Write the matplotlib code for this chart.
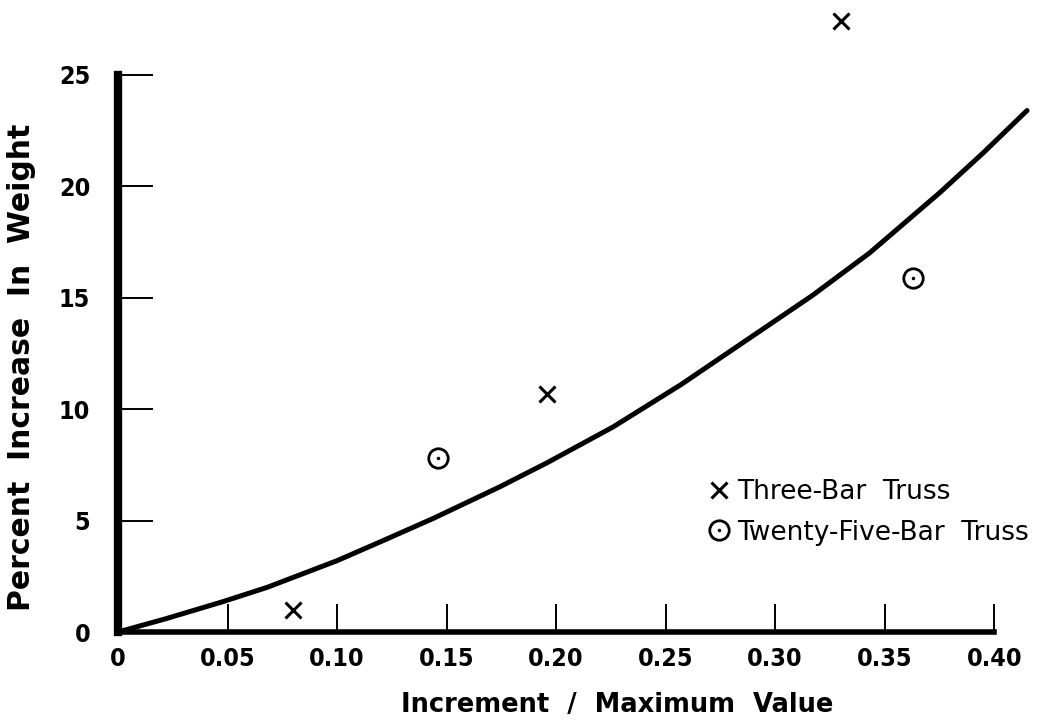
import matplotlib
matplotlib.use("Agg")
import matplotlib.pyplot as plt
from matplotlib.legend_handler import HandlerTuple

# curve
curve_x = [0, 0.022, 0.0475, 0.068, 0.100, 0.121, 0.144, 0.159, 0.174, 0.196, 0.226,
           0.257, 0.287, 0.317, 0.343, 0.375, 0.395, 0.415]
curve_y = [0, 0.6, 1.35, 2.0, 3.2, 4.1, 5.1, 5.8, 6.5, 7.6, 9.2,
           11.1, 13.1, 15.1, 17.0, 19.7, 21.5, 23.4]

# three-bar truss (x markers)
three_x = [0.080, 0.196, 0.330]
three_y = [1.0, 10.7, 27.4]

# twenty-five-bar truss (circles)
twentyfive_x = [0.146, 0.363]
twentyfive_y = [7.8, 15.9]

xticks = [0, 0.05, 0.10, 0.15, 0.20, 0.25, 0.30, 0.35, 0.40]
xticklabels = ["0", "0.05", "0.10", "0.15", "0.20", "0.25", "0.30", "0.35", "0.40"]
yticks = [0, 5, 10, 15, 20, 25]
yticklabels = ["0", "5", "10", "15", "20", "25"]

plt.rcParams['font.family'] = ['DejaVu Sans']

fig = plt.figure(figsize=(10.43, 7.23), dpi=100)
ax = fig.add_axes([118 / 1043, 1 - 632 / 723, 920 / 1043, 624 / 723])

ax.plot(curve_x, curve_y, color="black", lw=3.6, solid_capstyle="round",
        solid_joinstyle="round", clip_on=False)
h1, = ax.plot(three_x, three_y, ls="none", marker="x", ms=12, mew=2.2, color="black", clip_on=False)
h2, = ax.plot(twentyfive_x, twentyfive_y, ls="none", marker="o", ms=14, mew=2,
              mfc="none", mec="black", clip_on=False)
h3, = ax.plot(twentyfive_x, twentyfive_y, ls="none", marker=".", ms=3, color="black", clip_on=False)

ax.set_xlim(0, 0.42)
ax.set_ylim(0, 28)

for s in ["top", "right"]:
    ax.spines[s].set_visible(False)
ax.spines["left"].set_linewidth(6)
ax.spines["bottom"].set_linewidth(4)
ax.spines["left"].set_bounds(0, 25)
ax.spines["bottom"].set_bounds(0, 0.40)

font = dict(fontsize=18, fontweight="bold", fontstretch="condensed")
ax.set_xticks(xticks)
ax.set_xticklabels(xticklabels, **font)
ax.set_yticks(yticks)
ax.set_yticklabels(yticklabels, **font)
ax.tick_params(axis="x", direction="in", length=20, width=1.4, pad=11)
ax.tick_params(axis="y", direction="in", length=25, width=1.4, pad=20)

ax.set_xlabel("Increment  /  Maximum  Value", fontsize=18.5, fontweight="bold")
ax.set_ylabel("Percent  Increase  In  Weight", fontsize=21.5, fontweight="bold")
ax.xaxis.set_label_coords((617 - 118) / 920, (632 - 705) / 624)
ax.yaxis.set_label_coords((22 - 118) / 920, (632 - 367) / 624)
ax.xaxis.label.set_va("center")
ax.yaxis.label.set_va("center")

leg = ax.legend([h1, (h2, h3)], ["Three-Bar  Truss", "Twenty-Five-Bar  Truss"],
                handler_map={tuple: HandlerTuple(ndivide=1)},
                loc="upper left", bbox_to_anchor=(704 / 1043, 1 - 479 / 723),
                bbox_transform=fig.transFigure, frameon=False, borderpad=0,
                borderaxespad=0, handlelength=1.1, handletextpad=0.15,
                labelspacing=0.55, prop=dict(size=19))

fig.savefig("out.png", dpi=100)
